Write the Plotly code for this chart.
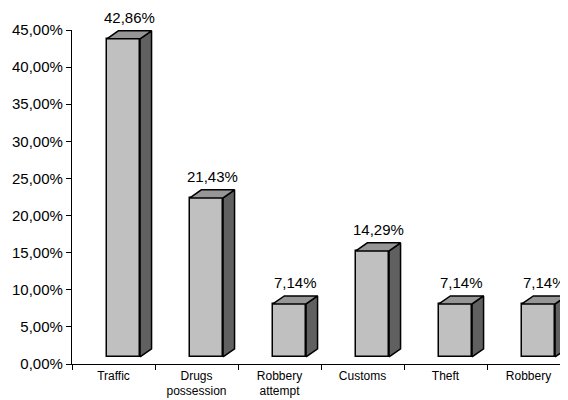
import plotly.graph_objects as go

categories = ["Traffic", "Drugs<br>possession", "Robbery<br>attempt", "Customs", "Theft", "Robbery"]
values = [42.86, 21.43, 7.14, 14.29, 7.14, 7.14]
labels = ["42,86%", "21,43%", "7,14%", "14,29%", "7,14%", "7,14%"]
y_ticks = [0, 5, 10, 15, 20, 25, 30, 35, 40, 45]
y_tick_text = ["0,00%", "5,00%", "10,00%", "15,00%", "20,00%", "25,00%",
               "30,00%", "35,00%", "40,00%", "45,00%"]

# 3D style constants (in axis units)
BASE = 0.95      # floor lift of the front face
SHIFT = 0.12     # front face offset from the category centre
W = 0.40         # front face width
DX = 0.1386      # depth, horizontal
DY = 1.08        # depth, vertical

FONT = "Liberation Sans, Arial, sans-serif"
xs = list(range(len(categories)))

fig = go.Figure()

# front faces
fig.add_trace(go.Bar(
    x=[i + SHIFT for i in xs], y=values, base=[BASE] * len(values), width=W,
    marker=dict(color="#C0C0C0", line=dict(color="black", width=1.5)),
    hoverinfo="skip", showlegend=False,
))

top_x, top_y, side_x, side_y = [], [], [], []
for i, v in zip(xs, values):
    x0 = i + SHIFT - W / 2
    x1 = i + SHIFT + W / 2
    t = BASE + v
    top_x += [x0, x1, x1 + DX, x0 + DX, x0, None]
    top_y += [t, t, t + DY, t + DY, t, None]
    side_x += [x1, x1 + DX, x1 + DX, x1, x1, None]
    side_y += [BASE, BASE + DY, t + DY, t, BASE, None]

fig.add_trace(go.Scatter(
    x=side_x, y=side_y, mode="lines", fill="toself", fillcolor="#606060",
    line=dict(color="black", width=1.5), hoverinfo="skip", showlegend=False,
    cliponaxis=False,
))
fig.add_trace(go.Scatter(
    x=top_x, y=top_y, mode="lines", fill="toself", fillcolor="#969696",
    line=dict(color="black", width=1.5), hoverinfo="skip", showlegend=False,
    cliponaxis=False,
))

# data labels
for i, v, lab in zip(xs, values, labels):
    fig.add_annotation(
        x=i + SHIFT + DX / 2, y=BASE + v + DY, text=lab, showarrow=False,
        yanchor="middle", xanchor="center", yshift=13,
        font=dict(family=FONT, size=15, color="black"),
    )

# figure is 8px smaller than the window to account for the page's body margin
fig.update_layout(
    width=560, height=392,
    margin=dict(l=64, r=0, t=22, b=36, autoexpand=False),
    plot_bgcolor="white", paper_bgcolor="white",
    font=dict(family=FONT, color="black"),
    bargap=0,
    xaxis=dict(
        range=[-0.5, -0.5 + 496 / 83], tickvals=xs, ticktext=categories,
        ticks="", showgrid=False, zeroline=False, showline=True,
        linecolor="black", linewidth=1.2, tickfont=dict(size=12, family=FONT),
        automargin=False,
        minor=dict(tickvals=[k - 0.5 for k in range(len(categories) + 1)],
                   ticks="outside", ticklen=5, tickcolor="black", tickwidth=1.2),
    ),
    yaxis=dict(
        range=[0, 45], tickvals=y_ticks, ticktext=y_tick_text,
        ticks="outside", ticklen=5, tickcolor="black", tickwidth=1.2,
        showgrid=False, zeroline=False, showline=True, linecolor="black",
        linewidth=1.2, tickfont=dict(size=15, family=FONT), automargin=False,
    ),
)

fig.write_html("out.html")
